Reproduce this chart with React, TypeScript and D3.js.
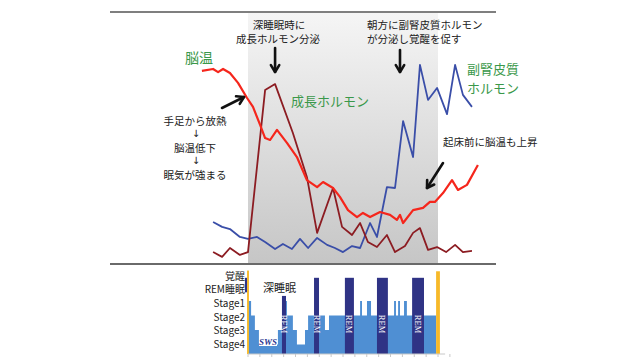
import React from 'react';
import * as d3 from 'd3';

const W = 640;
const H = 360;

// time in hours relative to lights-out (sleep period 0..8h)
const sleepStart = 0;
const sleepEnd = 8;

// Brain temperature (relative level 0..100)
const tempTimes = [-1.94, -1.47, -1.26, -1.05, -0.76, -0.42, -0.04, 0.21, 0.51, 0.72, 0.93, 1.22, 1.64, 2.06, 2.48, 2.91, 3.16, 3.58, 3.87, 4.21, 4.59, 4.84, 5.14, 5.56, 5.98, 6.27, 6.4, 6.53, 6.95, 7.37, 7.66, 7.87, 8.21, 8.59, 8.84, 9.22, 9.68];
const tempValues = [78.8, 79.6, 78.3, 79.6, 77.9, 73.8, 67.5, 63.8, 56.3, 50.8, 50.0, 54.2, 48.8, 42.9, 33.3, 30.4, 32.5, 30.0, 26.3, 20.8, 17.9, 19.6, 17.9, 20.0, 18.8, 16.7, 18.8, 15.4, 20.8, 21.7, 24.2, 24.2, 27.9, 33.3, 29.2, 31.3, 39.6];

// Growth hormone
const ghTimes = [-1.47, -1.09, -0.76, -0.34, 0, 0.72, 1.14, 1.89, 2.48, 2.91, 3.58, 3.96, 4.38, 4.72, 5.05, 5.43, 5.85, 6.19, 6.61, 6.95, 7.24, 7.58, 7.96, 8.34, 8.72, 9.05, 9.43];
const ghValues = [3.3, 1.3, 5.0, 2.1, 3.3, 70.8, 73.3, 52.9, 34.6, 11.3, 30.0, 13.8, 10.4, 15.4, 7.5, 5.4, 10.4, 3.3, 5.8, 11.3, 13.3, 4.2, 5.4, 3.3, 6.3, 3.3, 3.8];

// Cortisol (adrenal cortex hormone)
const cortTimes = [-1.47, -1.09, -0.76, -0.34, 0, 0.38, 0.72, 1.14, 1.47, 1.85, 2.19, 2.53, 2.91, 3.33, 3.66, 4.0, 4.38, 4.72, 5.14, 5.43, 5.85, 6.19, 6.53, 6.95, 7.24, 7.58, 7.96, 8.38, 8.72, 9.05, 9.43];
const cortValues = [15.8, 13.8, 12.9, 9.6, 8.8, 9.6, 7.5, 4.6, 6.7, 4.6, 8.8, 5.0, 9.2, 6.3, 5.0, 3.3, 5.8, 5.0, 15.4, 9.6, 30.4, 30.0, 57.9, 42.9, 81.3, 66.7, 71.7, 60.8, 81.3, 68.8, 63.8];

// Hypnogram: stage index 0=覚醒,1=REM,2..5=Stage1..4
const stageLabels = ['覚醒', 'REM睡眠', 'Stage1', 'Stage2', 'Stage3', 'Stage4'];
const hypTimes = [0, 0.13, 0.29, 0.46, 1.26, 1.43, 1.6, 1.64, 1.89, 2.06, 2.4, 2.53, 3.24, 3.41, 4.72, 4.8, 5.01, 5.18, 6.15, 6.23, 6.32, 6.4, 6.57, 6.69, 7.92];
const hypStages = [2, 3, 4, 5, 4, 3, 2, 3, 4, 5, 4, 3, 4, 3, 2, 3, 2, 3, 2, 3, 2, 3, 2, 3, 3];

const remStart = [1.43, 2.78, 4.08, 5.43, 6.91];
const remEnd = [1.6, 2.99, 4.46, 5.89, 7.41];
const remTop = [1.65, 0.4, 0.4, 0.4, 0.4];

const preRemStart = [-0.13];
const preRemEnd = [-0.04];
const preRemTop = [0.4];
const preRemBottom = [1.4];

const wakeStart = [-0.04, 7.92];
const wakeEnd = [0.04, 8.08];
const wakeTop = [-0.1, -0.05];

const hypTicks = d3.range(0, 8.51, 0.5);

const FONT = "'Noto Sans CJK JP', 'Noto Sans', sans-serif";
const GREEN = '#3a984a';
const TXT = '#222';

export default function App() {
  const x = d3.scaleLinear().domain([sleepStart, sleepEnd]).range([248, 438]);
  const y = d3.scaleLinear().domain([0, 100]).range([260, 20]);
  const yLev = d3.scaleLinear().domain([0, 5]).range([272, 344.5]);
  const hypBottom = 354;

  const line = (ts: number[], vs: number[]) =>
    d3.line<number>().x((_, i) => x(ts[i])).y((v) => y(v))(vs) || '';

  const hypArea = d3
    .area<number>()
    .curve(d3.curveStepAfter)
    .x((_, i) => x(hypTimes[i]))
    .y0(hypBottom)
    .y1((s) => yLev(s))(hypStages) || '';

  const arrow = (x1: number, y1: number, x2: number, y2: number, key: string) => {
    const ang = Math.atan2(y2 - y1, x2 - x1);
    const hl = 8;
    const a1 = ang + Math.PI - 0.55;
    const a2 = ang + Math.PI + 0.55;
    return (
      <g key={key} stroke="#111" strokeWidth={2.6} fill="none" strokeLinecap="round" strokeLinejoin="round">
        <line x1={x1} y1={y1} x2={x2} y2={y2} />
        <polyline
          points={`${x2 + hl * Math.cos(a1)},${y2 + hl * Math.sin(a1)} ${x2},${y2} ${x2 + hl * Math.cos(a2)},${y2 + hl * Math.sin(a2)}`}
        />
      </g>
    );
  };

  return (
    <svg width={W} height={H} style={{ position: 'absolute', left: 0, top: 0, background: '#fff' }} fontFamily={FONT}>
      <defs>
        <linearGradient id="sleepGrad" x1="0" y1="0" x2="0" y2="1">
          <stop offset="0" stopColor="#f5f5f5" />
          <stop offset="1" stopColor="#c6c6c6" />
        </linearGradient>
      </defs>

      {/* sleep period shading */}
      <rect x={x(sleepStart)} y={13} width={x(sleepEnd) - x(sleepStart)} height={250} fill="url(#sleepGrad)" />

      {/* separators */}
      <line x1={110} x2={496} y1={12} y2={12} stroke="#555" strokeWidth={1.5} />
      <line x1={110} x2={496} y1={264} y2={264} stroke="#6a6a6a" strokeWidth={2} />

      {/* series */}
      <path d={line(cortTimes, cortValues)} fill="none" stroke="#3a4ea8" strokeWidth={1.8} strokeLinejoin="round" />
      <path d={line(ghTimes, ghValues)} fill="none" stroke="#8c1c22" strokeWidth={1.8} strokeLinejoin="round" />
      <path d={line(tempTimes, tempValues)} fill="none" stroke="#f5261c" strokeWidth={2.2} strokeLinejoin="round" />

      {/* arrows */}
      {arrow(x(1.14), 48, x(1.14), 72, 'a1')}
      {arrow(x(6.4), 50, x(6.4), 72, 'a2')}
      {arrow(222, 108, 244, 97, 'a3')}
      {arrow(443, 163, 427, 188, 'a4')}

      {/* annotations */}
      <g fontSize={10.5} fill={TXT} dominantBaseline="central">
        <text x={279} y={24} textAnchor="middle">深睡眠時に</text>
        <text x={278} y={38} textAnchor="middle">成長ホルモン分泌</text>
        <text x={367} y={24}>朝方に副腎皮質ホルモン</text>
        <text x={367} y={38}>が分泌し覚醒を促す</text>
        <text x={443} y={141}>起床前に脳温も上昇</text>
        <text x={195} y={120} textAnchor="middle">手足から放熱</text>
        <text x={195} y={147} textAnchor="middle">脳温低下</text>
        <text x={195} y={174} textAnchor="middle">眠気が強まる</text>
      </g>
      <g fontSize={10} fill="#222" fontFamily="'DejaVu Sans', sans-serif" textAnchor="middle" dominantBaseline="central">
        <text x={196} y={133.5}>↓</text>
        <text x={196} y={160.5}>↓</text>
      </g>
      <g fill={GREEN} dominantBaseline="central">
        <text x={185} y={57} fontSize={14}>脳温</text>
        <text x={291} y={100} fontSize={13}>成長ホルモン</text>
        <text x={467} y={68} fontSize={13}>副腎皮質</text>
        <text x={467} y={87} fontSize={13}>ホルモン</text>
      </g>

      {/* hypnogram */}
      <path d={hypArea} fill="#4f8fd3" />
      {remStart.map((s, i) => (
        <rect key={'r' + i} x={x(s)} y={yLev(remTop[i])} width={x(remEnd[i]) - x(s)} height={hypBottom - yLev(remTop[i])} fill="#2f3385" />
      ))}
      {preRemStart.map((s, i) => (
        <rect key={'p' + i} x={x(s)} y={yLev(preRemTop[i])} width={x(preRemEnd[i]) - x(s)} height={yLev(preRemBottom[i]) - yLev(preRemTop[i])} fill="#2f3385" />
      ))}
      {wakeStart.map((s, i) => (
        <rect key={'w' + i} x={x(s)} y={yLev(wakeTop[i])} width={x(wakeEnd[i]) - x(s)} height={hypBottom - yLev(wakeTop[i])} fill="#f7b928" />
      ))}
      {remStart.map((s, i) => {
        const cx = (x(s) + x(remEnd[i])) / 2;
        return (
          <text key={'rt' + i} transform={`translate(${cx},324) rotate(90)`} textAnchor="middle" dominantBaseline="central" fontSize={8.5} fill="#fff" fontFamily="'Liberation Serif', 'DejaVu Serif', serif">
            REM
          </text>
        );
      })}

      {/* SWS label */}
      <rect x={259} y={337} width={18} height={9} fill="#fff" />
      <text x={268} y={341.5} textAnchor="middle" dominantBaseline="central" fontSize={9} fontStyle="italic" fontWeight="bold" fill="#2a3590" fontFamily="'Liberation Serif', 'DejaVu Serif', serif">SWS</text>
      <text x={263} y={287} fontSize={11} fill={TXT} dominantBaseline="central">深睡眠</text>

      {/* hypnogram axis */}
      <line x1={x(0)} x2={x(8.3)} y1={hypBottom} y2={hypBottom} stroke="#c8c8c8" strokeWidth={1} />
      {hypTicks.map((t) => (
        <line key={'t' + t} x1={x(t)} x2={x(t)} y1={hypBottom} y2={hypBottom + 3} stroke="#c8c8c8" strokeWidth={1} />
      ))}

      {/* stage labels */}
      <g fontSize={10} fill={TXT} textAnchor="end" dominantBaseline="central">
        {stageLabels.map((l, i) => (
          <text key={l} x={245} y={275 + i * 13.7}>{l}</text>
        ))}
      </g>
    </svg>
  );
}
